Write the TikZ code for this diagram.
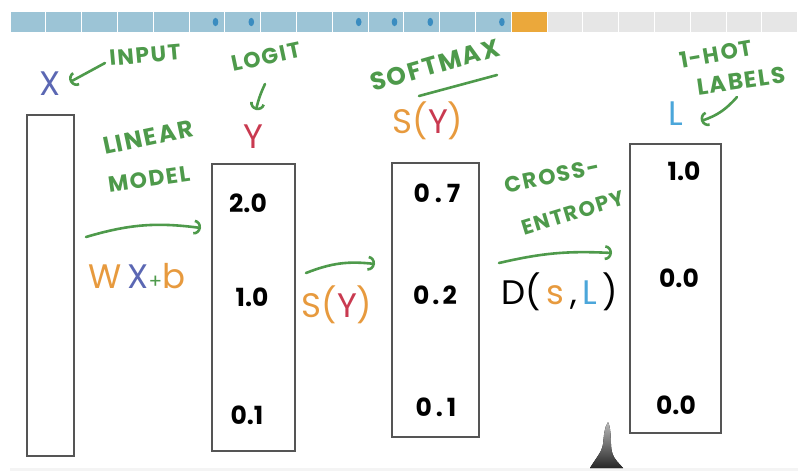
\documentclass[tikz,border=0pt]{standalone}
\usepackage{fontspec}
\setmainfont{Poppins}
\usetikzlibrary{arrows.meta}
\definecolor{grn}{HTML}{4E9A4B}
\definecolor{xblue}{HTML}{5B67B3}
\definecolor{yred}{HTML}{C93A50}
\definecolor{org}{HTML}{E79A3E}
\definecolor{lblue}{HTML}{4BA6DA}
\definecolor{barblue}{HTML}{9CC4D6}
\definecolor{dotblue}{HTML}{3A8CC0}
\definecolor{barorg}{HTML}{EBA83B}
\definecolor{bargrey}{HTML}{E6E6E6}
\definecolor{boxgrey}{HTML}{555555}
\newcommand{\hsz}[1]{\bfseries\fontsize{#1}{#1}\selectfont\addfontfeatures{LetterSpace=7}}
\tikzset{
  vbox/.style={draw=boxgrey, line width=2.6pt, rectangle, inner sep=0pt},
  hand/.style={text=grn, inner sep=0pt, font=\hsz{22}},
  big/.style={inner sep=0pt, font=\fontsize{34}{34}\selectfont},
  mid/.style={inner sep=0pt, font=\fontsize{34}{34}\selectfont},
  num/.style={inner sep=0pt, text=black, font=\bfseries\fontsize{25}{25}\selectfont},
  garrow/.style={draw=grn, line width=2.6pt, line cap=round, -{Arc Barb[length=7pt,width=15pt,line width=2.6pt]}},
  gline/.style={draw=grn, line width=2.6pt, line cap=round}
}
\begin{document}
\begin{tikzpicture}[x=1pt,y=-1pt]
\useasboundingbox (0,0) rectangle (798,471);
% progress bar
\foreach \k in {0,...,21}{
  \pgfmathsetmacro{\xa}{10+35.8*\k}
  \ifnum\k<14 \def\cc{barblue}\else\ifnum\k=14 \def\cc{barorg}\else\def\cc{bargrey}\fi\fi
  \fill[\cc] (\xa+0.5,12) rectangle (\xa+35.3,32);
}
\foreach \k in {5,6,9,10,11,13}{
  \fill[dotblue] (10+35.8*\k+26.5,22) ellipse (2.8 and 4.2);
}
% bottom strip
\fill[gray!9] (10,468) rectangle (798,471);
% stylus
\fill[top color=gray!55, bottom color=black!85] (608,422) .. controls (612,430) and (610,446) .. (612,452) .. controls (614,460) and (620,464) .. (623,468) -- (590,468) .. controls (596,458) and (602,452) .. (603,444) .. controls (604,436) and (604,428) .. (608,422) -- cycle;

% boxes
\node[vbox, minimum width=47pt, minimum height=341pt] (bx) at (50.5,285.5) {};
\node[vbox, minimum width=83pt, minimum height=287pt] (by) at (253.5,307.5) {};
\node[vbox, minimum width=87pt, minimum height=274pt] (bs) at (435.5,300) {};
\node[vbox, minimum width=91pt, minimum height=289pt] (bl) at (675.5,288.5) {};

% numbers
\node[num] (y1) at (248,203) {2.0};
\node[num] (y2) at (252,297) {1.0};
\node[num] (y3) at (247,415) {0.1};
\node[num] (s1) at (437,193) {0\hspace{5pt}.\hspace{5pt}7};
\node[num] (s2) at (435,295) {0\hspace{3pt}.\hspace{3pt}2};
\node[num] (s3) at (436,407) {0\hspace{4pt}.\hspace{4pt}1};
\node[num] (l1) at (684,171) {1.0};
\node[num] (l2) at (679,278) {0.0};
\node[num] (l3) at (676,405) {0.0};

% top labels
\node[big, text=xblue] (xl) at (50,84) {X};
\node[hand, rotate=5] (inp) at (145,55) {INPUT};
\coordinate (inpS) at (105,63);
\coordinate (inpE) at (70,82);
\draw[garrow] (inpS) -- (inpE);

\node[hand, rotate=12] (logit) at (266,57) {LOGIT};
\coordinate (lgS) at (265,84);
\coordinate (lgE) at (256,110);
\draw[garrow] (lgS) to[bend right=6] (lgE);
\node[big, text=yred] (yl) at (253,137) {Y};

\node[hand, rotate=12, font=\hsz{24}] (lin) at (148,137) {LINEAR};
\node[hand, rotate=8, font=\hsz{22}] (mod) at (149,179) {MODEL};

\node[hand, rotate=16, font=\hsz{25}] (soft) at (435,65) {SOFTMAX};
\coordinate (sfA) at (419,96);
\coordinate (sfB) at (497,75);
\draw[gline] (sfA) -- (sfB);
\node[mid] (syl) at (428,121) {\textcolor{org}{S(}\textcolor{yred}{Y}\textcolor{org}{)}};

\node[hand, rotate=10] (hot) at (716,54) {1-HOT};
\node[hand, rotate=8, font=\hsz{23}] (lab) at (741,81) {LABELS};
\coordinate (lbS) at (737,97);
\coordinate (lbE) at (701,121);
\draw[garrow] (lbS) to[bend left=15] (lbE);
\node[big, text=lblue] (ll) at (676,114) {L};

% middle
\coordinate (a1S) at (86,237);
\coordinate (a1E) at (201,228);
\draw[garrow] (a1S) to[bend left=12] (a1E);
\node[mid] (wxb) at (137,276) {\textcolor{org}{W}\,\textcolor{xblue}{X}{\fontsize{20}{20}\selectfont\textcolor{grn}{+}}\textcolor{org}{b}};

\coordinate (a2S) at (306,273);
\coordinate (a2E) at (375,264);
\draw[garrow] (a2S) to[bend left=14] (a2E);
\node[mid] (sy2) at (337,305) {\textcolor{org}{S(}\textcolor{yred}{Y}\textcolor{org}{)}};

\node[hand, rotate=12] (cross) at (552,176) {CROSS-};
\node[hand, rotate=17, font=\hsz{21}] (entr) at (573,213) {ENTROPY};
\coordinate (a3S) at (499,263);
\coordinate (a3E) at (612,253);
\draw[garrow] (a3S) to[bend left=8] (a3E);
\node[mid] (dsl) at (560,292) {D(\,\textcolor{org}{s}\,,\,\textcolor{lblue}{L}\,)};
\end{tikzpicture}
\end{document}
